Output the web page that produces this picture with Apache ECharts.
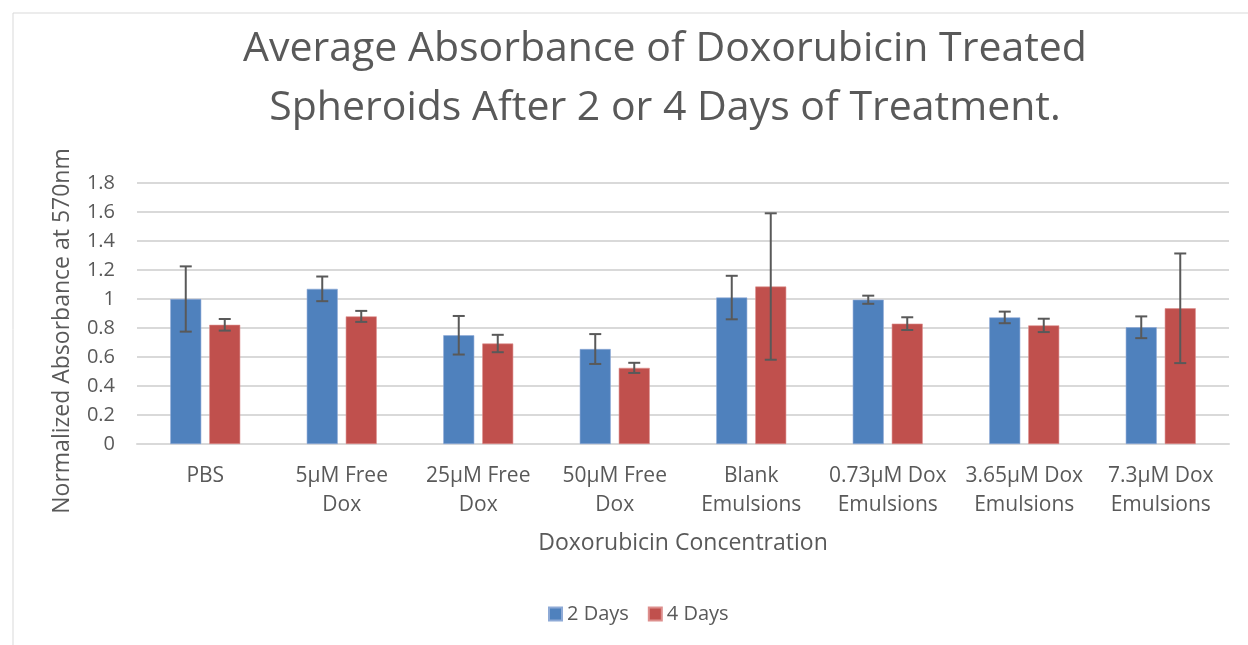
<!DOCTYPE html>
<html>
<head>
<meta charset="utf-8">
<script src="https://cdn.jsdelivr.net/npm/echarts@6/dist/echarts.min.js"></script>
<style>
  html, body { margin: 0; padding: 0; background: #fff; }
  #chart { width: 1248px; height: 645px; }
</style>
</head>
<body>
<div id="chart"></div>
<script>
const categories = ['PBS', '5µM Free\nDox', '25µM Free\nDox', '50µM Free\nDox', 'Blank\nEmulsions',
  '0.73µM Dox\nEmulsions', '3.65µM Dox\nEmulsions', '7.3µM Dox\nEmulsions']
const days2 = [1.0, 1.07, 0.75, 0.655, 1.01, 0.995, 0.873, 0.805]
const days2Err = [0.225, 0.085, 0.133, 0.103, 0.15, 0.028, 0.04, 0.075]
const days4 = [0.822, 0.88, 0.693, 0.525, 1.086, 0.83, 0.818, 0.936]
const days4Err = [0.04, 0.038, 0.06, 0.035, 0.505, 0.044, 0.046, 0.378]
const yTicks = [0, 0.2, 0.4, 0.6, 0.8, 1, 1.2, 1.4, 1.6, 1.8]

const BLUE = '#4f81bd', RED = '#c0504d', TXT = '#595959', GRID = '#d9d9d9'
const FONT = '"Open Sans", sans-serif'
const BAR_W = 31, BAR_GAP = 8

const chart = echarts.init(document.getElementById('chart'), null, { renderer: 'canvas' })

function errSeries(vals, errs, side) {
  return {
    type: 'custom', silent: true, z: 10,
    data: vals.map((v, i) => [i, v - errs[i], v + errs[i]]),
    renderItem(params, api) {
      const off = side * (BAR_W + BAR_GAP) / 2
      const lo = api.coord([api.value(0), api.value(1)])
      const hi = api.coord([api.value(0), api.value(2)])
      const x = lo[0] + off, cap = 6
      const st = { stroke: TXT, lineWidth: 2 }
      return {
        type: 'group',
        children: [
          { type: 'line', shape: { x1: x, y1: lo[1], x2: x, y2: hi[1] }, style: st },
          { type: 'line', shape: { x1: x - cap, y1: lo[1], x2: x + cap, y2: lo[1] }, style: st },
          { type: 'line', shape: { x1: x - cap, y1: hi[1], x2: x + cap, y2: hi[1] }, style: st },
        ],
      }
    },
  }
}

chart.setOption({
  animation: false,
  graphic: [
    { type: 'rect', shape: { x: 13, y: 13, width: 1300, height: 700 }, style: { fill: 'none', stroke: GRID, lineWidth: 1 }, silent: true },
    {
      type: 'text', x: 665, y: 20,
      style: {
        text: 'Average Absorbance of Doxorubicin Treated\nSpheroids After 2 or 4 Days of Treatment.',
        font: '41px ' + FONT, fill: TXT, align: 'center', verticalAlign: 'top', lineHeight: 59,
      },
    },
    {
      type: 'text', x: 62, y: 331, rotation: Math.PI / 2,
      style: { text: 'Normalized Absorbance at 570nm', font: '23px ' + FONT, fill: TXT, align: 'center', verticalAlign: 'middle' },
    },
  ],
  legend: {
    data: ['2 Days', '4 Days'], left: 543, top: 599, itemWidth: 13, itemHeight: 13, itemGap: 19,
    icon: 'rect', textStyle: { fontFamily: FONT, fontSize: 20, color: TXT },
  },
  grid: { left: 137, right: 19, top: 183, bottom: 201 },
  xAxis: {
    type: 'category', data: categories,
    name: 'Doxorubicin Concentration', nameLocation: 'middle', nameGap: 88,
    nameTextStyle: { fontFamily: FONT, fontSize: 23, color: TXT },
    axisLine: { lineStyle: { color: GRID, width: 2 } },
    axisTick: { show: false },
    axisLabel: { interval: 0, margin: 18, fontFamily: FONT, fontSize: 21, color: TXT, lineHeight: 29 },
  },
  yAxis: {
    type: 'value', min: 0, max: 1.8, interval: 0.2,
    axisLine: { show: false }, axisTick: { show: false },
    axisLabel: {
      margin: 22, fontFamily: FONT, fontSize: 20, color: TXT,
      formatter: v => { const t = yTicks.find(k => Math.abs(k - v) < 1e-6); return t === undefined ? '' : String(t) },
    },
    splitLine: { lineStyle: { color: GRID, width: 2 } },
  },
  series: [
    { name: '2 Days', type: 'bar', data: days2, barWidth: BAR_W, barGap: (BAR_GAP / BAR_W * 100) + '%',
      itemStyle: { color: BLUE, borderColor: '#8eaad6', borderWidth: 0.6 } },
    { name: '4 Days', type: 'bar', data: days4, barWidth: BAR_W,
      itemStyle: { color: RED, borderColor: '#dd8f8d', borderWidth: 0.6 } },
    errSeries(days2, days2Err, -1),
    errSeries(days4, days4Err, 1),
  ],
})
</script>
</body>
</html>
